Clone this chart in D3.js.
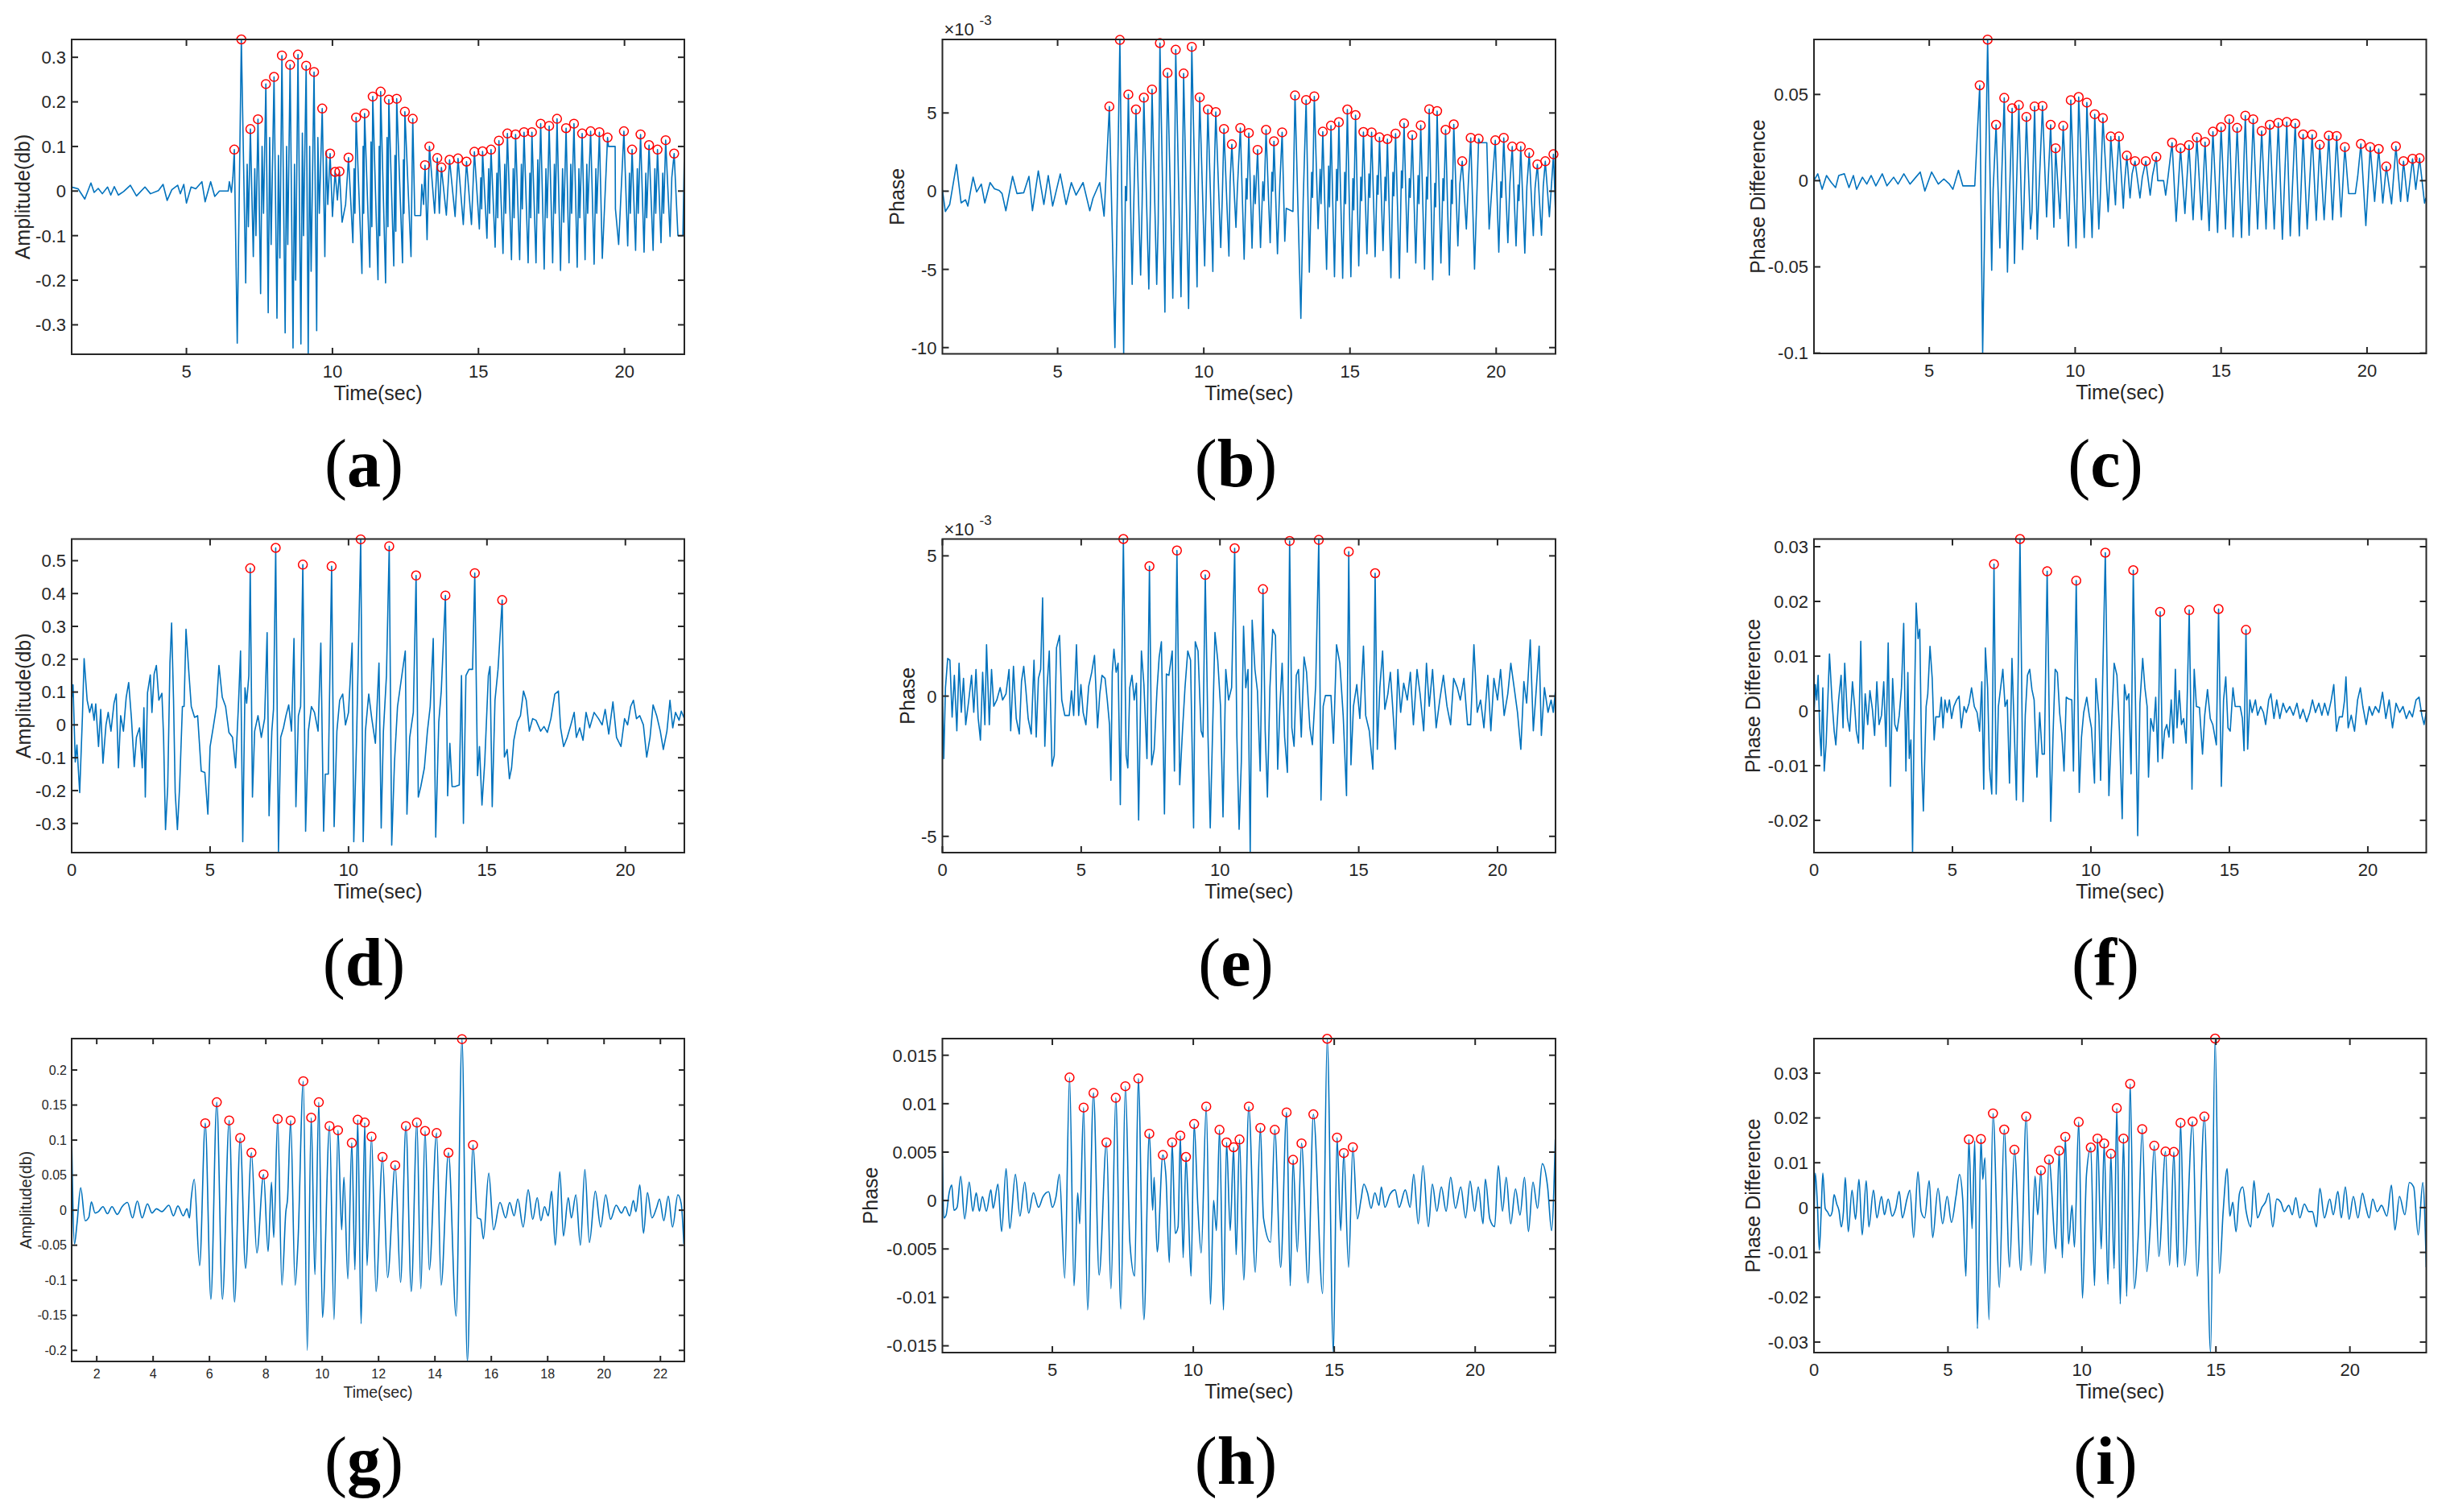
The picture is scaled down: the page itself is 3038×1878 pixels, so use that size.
<!DOCTYPE html>
<html>
<head>
<meta charset="utf-8">
<script src="https://cdn.jsdelivr.net/npm/d3@7"></script>
<style>
  html, body { margin: 0; padding: 0; background: #fff; }
  svg { display: block; }
</style>
</head>
<body>
<svg id="chart" width="3038" height="1878"></svg>
<script>
// ---- data: [time, value] pairs ----
// (a) amplitude, peaks are the red markers, wave holds the rest of the trace
const aPeaks = [[6.64,0.093],[6.88,0.340],[7.19,0.139],[7.45,0.161],[7.72,0.240],[8.00,0.256],[8.27,0.304],[8.55,0.283],[8.82,0.306],[9.10,0.281],[9.37,0.267],[9.65,0.185],[9.92,0.084],[10.09,0.043],[10.24,0.044],[10.55,0.075],[10.81,0.165],[11.10,0.174],[11.38,0.212],[11.65,0.223],[11.93,0.205],[12.20,0.207],[12.48,0.178],[12.75,0.162],[13.17,0.058],[13.32,0.100],[13.59,0.074],[13.73,0.053],[14.01,0.070],[14.30,0.073],[14.59,0.066],[14.86,0.088],[15.14,0.089],[15.43,0.093],[15.70,0.113],[15.99,0.129],[16.27,0.127],[16.56,0.132],[16.83,0.132],[17.13,0.151],[17.42,0.146],[17.69,0.162],[18.00,0.141],[18.27,0.151],[18.55,0.129],[18.84,0.134],[19.14,0.132],[19.42,0.120],[19.98,0.134],[20.26,0.093],[20.55,0.127],[20.84,0.103],[21.13,0.093],[21.41,0.114],[21.70,0.084]];
const aWave = [[1.07,0.009],[1.29,0.005],[1.52,-0.018],[1.73,0.018],[1.84,-0.003],[1.98,0.006],[2.12,-0.006],[2.30,0.009],[2.41,-0.009],[2.53,0.010],[2.67,-0.009],[2.85,-0.001],[3.08,0.013],[3.29,-0.011],[3.58,0.009],[3.77,-0.006],[4.04,0.001],[4.20,0.015],[4.34,-0.021],[4.50,0.003],[4.70,0.013],[4.79,-0.006],[4.91,0.015],[5.00,-0.027],[5.16,0.009],[5.32,0.005],[5.53,0.021],[5.64,-0.024],[5.83,0.021],[5.97,-0.012],[6.13,0.0],[6.43,0.0],[6.47,0.021],[6.54,-0.003],[6.59,0.030],
  [6.74,-0.341],[7.03,-0.206],[7.08,0.06],[7.12,-0.08],[7.29,-0.147],[7.34,0.05],[7.38,-0.10],[7.54,-0.230],[7.59,0.10],[7.64,-0.05],[7.80,-0.273],[7.85,0.12],[7.90,-0.12],[8.10,-0.285],[8.15,0.08],[8.20,-0.15],[8.38,-0.318],[8.43,0.10],[8.47,-0.12],[8.65,-0.352],[8.70,0.06],[8.74,-0.20],[8.92,-0.343],[8.97,0.13],[9.01,-0.10],[9.17,-0.366],[9.22,0.10],[9.27,-0.18],[9.46,-0.313],[9.50,0.12],[9.55,-0.05],[9.74,-0.147],[9.79,0.09],[9.84,-0.03],[10.00,-0.057],[10.17,-0.020],[10.33,-0.070],[10.45,-0.030],
  [10.70,-0.116],[10.74,0.05],[10.77,-0.05],[11.01,-0.185],[11.05,0.10],[11.07,-0.05],[11.28,-0.171],[11.32,0.11],[11.35,-0.08],[11.56,-0.199],[11.60,0.10],[11.62,-0.10],[11.82,-0.206],[11.87,0.12],[11.90,-0.08],[12.10,-0.168],[12.14,0.08],[12.17,-0.09],[12.40,-0.161],[12.43,0.07],[12.45,-0.05],[12.69,-0.147],[12.82,-0.055],[13.02,-0.055],[13.06,0.015],[13.12,-0.030],
  [13.24,-0.109],[13.50,-0.050],[13.66,-0.050],[13.90,-0.054],[14.20,-0.057],[14.48,-0.075],[14.76,-0.075],[15.03,-0.085],[15.08,0.03],[15.11,-0.04],[15.29,-0.106],[15.35,0.05],[15.38,-0.05],[15.57,-0.126],[15.63,0.04],[15.66,-0.06],[15.84,-0.140],[15.90,0.06],[15.93,-0.05],[16.13,-0.154],[16.19,0.05],[16.22,-0.06],[16.41,-0.154],[16.47,0.06],[16.50,-0.04],[16.70,-0.161],[16.76,0.04],[16.79,-0.06],[16.97,-0.161],[17.03,0.07],[17.06,-0.05],[17.25,-0.175],[17.31,0.05],[17.35,-0.06],[17.54,-0.161],[17.60,0.06],[17.63,-0.05],[17.81,-0.178],[17.88,0.05],[17.92,-0.07],[18.10,-0.161],[18.16,0.06],[18.19,-0.05],[18.38,-0.171],[18.44,0.05],[18.47,-0.06],[18.65,-0.154],[18.71,0.06],[18.74,-0.05],[18.96,-0.164],[19.02,0.05],[19.05,-0.05],[19.24,-0.151],[19.45,0.100],[19.68,0.100],[19.69,-0.040],[19.80,-0.120],
  [20.11,-0.123],[20.17,0.04],[20.20,-0.05],[20.38,-0.133],[20.44,0.05],[20.47,-0.05],[20.67,-0.137],[20.73,0.04],[20.76,-0.06],[20.98,-0.133],[21.04,0.05],[21.07,-0.05],[21.25,-0.116],[21.31,0.04],[21.34,-0.05],[21.56,-0.102],[21.62,0.03],[21.83,-0.100],[22.00,-0.100],[22.05,0.090]];

// (b) phase, in units of 1e-3
const bPeaks = [[6.77,5.41],[7.13,9.67],[7.42,6.18],[7.68,5.22],[7.95,5.98],[8.23,6.50],[8.50,9.47],[8.76,7.56],[9.04,9.04],[9.31,7.52],[9.59,9.23],[9.86,6.00],[10.14,5.22],[10.41,5.06],[10.69,3.98],[10.96,2.99],[11.25,4.04],[11.54,3.72],[11.84,2.64],[12.13,3.92],[12.40,3.19],[12.68,3.76],[13.12,6.12],[13.50,5.83],[13.78,6.06],[14.07,3.80],[14.35,4.19],[14.62,4.41],[14.91,5.22],[15.19,4.86],[15.46,3.78],[15.74,3.76],[16.01,3.44],[16.28,3.33],[16.56,3.68],[16.85,4.33],[17.13,3.58],[17.42,4.21],[17.71,5.24],[17.98,5.12],[18.27,3.92],[18.55,4.27],[18.84,1.91],[19.13,3.41],[19.40,3.35],[19.97,3.25],[20.26,3.41],[20.55,2.85],[20.84,2.85],[21.13,2.44],[21.41,1.71],[21.68,1.91],[21.96,2.36]];
const bWave = [[1.06,0.1],[1.16,-1.3],[1.31,-0.85],[1.54,1.7],[1.70,-0.75],[1.85,-0.55],[1.93,-0.95],[2.11,0.9],[2.23,-0.05],[2.39,0.45],[2.51,-0.75],[2.69,0.55],[2.84,0.15],[3.00,0.05],[3.10,-0.15],[3.23,-1.25],[3.46,0.95],[3.61,-0.15],[3.84,-0.1],[4.02,0.95],[4.14,-1.25],[4.34,1.3],[4.53,-0.85],[4.68,1.0],[4.83,-0.95],[5.09,1.1],[5.29,-0.85],[5.47,0.55],[5.63,-0.25],[5.87,0.55],[6.10,-1.25],[6.21,-0.45],[6.44,0.55],[6.59,-1.6],
  [6.96,-10.0],[7.26,-10.4],[7.32,0.3],[7.36,-0.6],[7.55,-5.96],[7.61,-0.4],[7.84,-5.37],[7.89,-0.9],[8.12,-6.26],[8.17,-1.2],[8.39,-5.96],[8.44,-2.0],[8.67,-7.74],[8.71,-0.6],[8.94,-6.85],[8.99,-1.4],[9.22,-6.75],[9.26,-1.0],[9.48,-7.5],[9.53,-0.8],[9.77,-6.12],[9.81,0.2],[10.03,-4.78],[10.08,-0.4],[10.31,-5.14],[10.35,0.5],[10.58,-3.6],[10.63,-0.6],[10.86,-4.15],[10.90,0.6],[11.10,-2.32],[11.15,0.2],[11.38,-4.35],[11.45,0.8],[11.48,-0.5],[11.65,-3.64],[11.72,1.0],[11.76,-0.8],[11.94,-3.6],[12.02,0.6],[12.06,-0.6],[12.27,-3.3],[12.33,1.2],[12.36,0.0],[12.52,-4.0],[12.60,0.4],[12.77,-3.2],[12.82,-1.1],[13.05,-1.3],[13.32,-8.13],[13.40,-0.6],
  [13.61,-5.18],[13.69,1.2],[13.72,-0.4],[13.91,-2.4],[13.98,1.4],[14.01,-0.8],[14.20,-5.0],[14.27,1.6],[14.30,-1.0],[14.47,-5.47],[14.54,1.4],[14.57,-0.6],[14.75,-5.57],[14.82,1.2],[14.85,-0.8],[15.03,-5.47],[15.10,0.8],[15.13,-1.2],[15.30,-4.78],[15.37,0.9],[15.40,-0.6],[15.58,-4.0],[15.65,1.1],[15.68,-0.4],[15.86,-4.19],[15.93,1.0],[15.96,-0.2],[16.13,-3.8],[16.20,0.9],[16.23,-0.6],[16.40,-5.53],[16.47,1.2],[16.50,-0.3],[16.69,-5.57],[16.76,1.3],[16.79,0.2],[16.96,-3.9],[17.03,0.8],[17.06,-0.4],[17.25,-4.59],[17.33,1.0],[17.36,-0.8],[17.55,-4.98],[17.62,0.9],[17.65,-0.5],[17.83,-5.67],[17.90,0.5],[17.93,-1.0],[18.11,-4.59],[18.18,0.8],[18.21,-0.6],[18.40,-5.37],[18.47,0.7],[18.50,-0.8],[18.69,-3.5],[18.76,0.5],[18.98,-2.42],[19.05,0.6],[19.26,-4.98],[19.45,3.1],[19.68,3.1],[19.76,-2.42],[19.86,0.4],
  [20.09,-3.9],[20.16,0.6],[20.19,-0.4],[20.40,-3.3],[20.47,0.5],[20.68,-3.5],[20.75,0.4],[20.78,-0.6],[20.98,-3.96],[21.05,0.3],[21.27,-2.85],[21.33,0.2],[21.55,-2.82],[21.61,0.3],[21.82,-1.63],[22.03,-1.44]];

// (c) phase difference
const cPeaks = [[6.73,0.0553],[7.00,0.0818],[7.29,0.0324],[7.57,0.0480],[7.84,0.0420],[8.07,0.0438],[8.33,0.0370],[8.61,0.0430],[8.88,0.0433],[9.16,0.0324],[9.33,0.0188],[9.59,0.0318],[9.85,0.0467],[10.12,0.0485],[10.40,0.0453],[10.67,0.0385],[10.95,0.0363],[11.22,0.0256],[11.50,0.0256],[11.77,0.0145],[12.05,0.0113],[12.42,0.0113],[12.78,0.0138],[13.32,0.0220],[13.61,0.0188],[13.90,0.0206],[14.17,0.0250],[14.45,0.0224],[14.72,0.0284],[15.00,0.0310],[15.28,0.0356],[15.55,0.0306],[15.83,0.0377],[16.10,0.0356],[16.39,0.0288],[16.67,0.0324],[16.96,0.0335],[17.25,0.0340],[17.54,0.0331],[17.81,0.0268],[18.12,0.0267],[18.38,0.0208],[18.69,0.0261],[18.96,0.0259],[19.24,0.0195],[19.79,0.0213],[20.11,0.0195],[20.40,0.0184],[20.66,0.0082],[20.99,0.0199],[21.25,0.0113],[21.56,0.0127],[21.80,0.0130]];
const cWave = [[1.05,0.0],[1.18,0.004],[1.33,-0.005],[1.48,0.003],[1.64,-0.001],[1.79,-0.004],[1.90,0.003],[2.09,0.004],[2.25,-0.004],[2.40,0.003],[2.51,-0.005],[2.71,0.002],[2.86,-0.002],[3.01,0.003],[3.17,-0.003],[3.39,0.004],[3.55,-0.003],[3.78,0.002],[3.93,-0.002],[4.13,0.004],[4.34,-0.002],[4.54,0.002],[4.69,0.005],[4.85,-0.006],[5.08,0.005],[5.31,-0.002],[5.50,0.001],[5.69,-0.002],[5.81,-0.005],[6.00,0.006],[6.15,-0.003],[6.22,-0.003],[6.56,-0.003],
  [6.83,-0.100],[7.14,-0.052],[7.19,-0.005],[7.42,-0.039],[7.47,-0.004],[7.68,-0.053],[7.73,-0.020],[7.92,-0.048],[7.97,-0.015],[8.20,-0.040],[8.25,-0.012],[8.47,-0.028],[8.52,-0.018],[8.70,-0.034],[8.75,-0.010],[9.02,-0.021],[9.27,-0.027],[9.48,-0.022],[9.77,-0.038],[9.81,-0.008],[10.03,-0.039],[10.07,-0.005],[10.31,-0.033],[10.35,-0.012],[10.58,-0.033],[10.62,-0.006],[10.81,-0.028],[10.86,-0.010],[11.13,-0.018],[11.17,-0.004],[11.38,-0.014],[11.42,0.003],[11.65,-0.016],[11.69,-0.002],[11.88,-0.010],[11.95,0.004],[12.22,-0.010],[12.30,0.002],[12.57,-0.0084],[12.65,0.003],[12.83,0.0],[13.03,0.0],[13.10,-0.0084],[13.18,0.002],
  [13.46,-0.0236],[13.76,-0.019],[14.04,-0.0227],[14.33,-0.0227],[14.59,-0.029],[14.88,-0.030],[15.15,-0.028],[15.41,-0.0326],[15.70,-0.033],[15.96,-0.0317],[16.25,-0.028],[16.54,-0.028],[16.82,-0.028],[17.10,-0.034],[17.37,-0.032],[17.68,-0.032],[17.95,-0.028],[18.26,-0.023],[18.53,-0.0227],[18.82,-0.0227],[19.11,-0.021],[19.37,-0.0075],[19.60,-0.0075],[19.68,0.0023],[19.96,-0.026],[20.26,-0.012],[20.54,-0.013],[20.84,-0.0134],[21.15,-0.012],[21.39,-0.012],[21.67,-0.005],[21.97,-0.013],[22.02,-0.010]];

// (d) amplitude, second record
const dPeaks = [[6.45,0.477],[7.37,0.539],[8.35,0.488],[9.39,0.483],[10.44,0.565],[11.47,0.544],[12.44,0.455],[13.50,0.394],[14.56,0.462],[15.55,0.380]];
const dWave = [[0,0.075],[0.05,0.122],[0.13,-0.113],[0.19,-0.061],[0.29,-0.206],[0.39,0.028],[0.45,0.202],[0.56,0.075],[0.65,0.038],[0.73,0.064],[0.81,0.014],[0.87,0.064],[0.97,-0.066],[1.05,0.047],[1.13,-0.117],[1.24,0],[1.32,0.038],[1.42,-0.019],[1.53,0.066],[1.61,0.094],[1.69,-0.131],[1.77,0.028],[1.87,-0.019],[1.97,0.084],[2.06,0.129],[2.16,0.019],[2.26,-0.127],[2.34,-0.038],[2.45,-0.009],[2.55,-0.131],[2.61,0.052],[2.66,-0.22],[2.74,0.098],[2.84,0.152],[2.90,0.038],[2.98,0.155],[3.06,0.181],[3.15,0.075],[3.26,0.096],[3.32,-0.038],[3.39,-0.319],[3.47,-0.188],[3.55,0.188],[3.61,0.31],[3.68,0.075],[3.74,-0.206],[3.82,-0.319],[3.90,-0.188],[4.00,0.056],[4.06,0.056],[4.13,0.291],[4.23,0.164],[4.32,0.056],[4.44,0.023],[4.55,0.028],[4.68,-0.141],[4.81,-0.145],[4.92,-0.272],[5.00,-0.066],[5.11,-0.009],[5.23,0.056],[5.32,0.181],[5.44,0.084],[5.56,0.056],[5.68,-0.023],[5.81,-0.038],[5.92,-0.131],[6.02,0.052],[6.10,0.225],[6.18,-0.356],[6.26,0.113],[6.32,0.066],[6.40,0.15],
  [6.53,-0.22],[6.61,-0.019],[6.73,0.028],[6.85,-0.038],[6.97,0.019],[7.06,0.281],[7.13,-0.277],[7.23,-0.019],[7.29,0.047],[7.47,-0.385],[7.55,-0.038],[7.65,-0.009],[7.74,0.028],[7.84,0.061],[7.94,-0.019],[8.03,0.263],[8.10,-0.249],[8.19,0.028],[8.27,0.056],[8.45,-0.324],[8.55,-0.019],[8.66,0.056],[8.77,0.038],[8.90,-0.019],[9.00,0.249],[9.10,-0.324],[9.16,-0.15],[9.27,-0.15],[9.48,-0.31],[9.58,-0.019],[9.68,0.075],[9.79,0.094],[9.89,0],[10.00,0.038],[10.13,0.249],[10.19,-0.356],[10.29,-0.047],[10.53,-0.356],[10.61,-0.019],[10.73,0.094],[10.84,0.019],[10.97,-0.056],[11.10,0.188],[11.18,-0.314],[11.26,-0.019],[11.37,0.15],[11.56,-0.366],[11.66,-0.113],[11.77,0.056],[11.94,0.159],[12.05,0.225],[12.11,-0.272],[12.21,-0.038],[12.34,0.038],[12.52,-0.22],[12.61,-0.188],[12.74,-0.131],[12.85,-0.019],[12.95,0.056],[13.06,0.263],[13.15,-0.342],[13.26,0.009],[13.35,0.103],[13.58,-0.216],[13.66,-0.056],[13.74,-0.188],[13.84,-0.188],[14.00,-0.183],[14.08,0.15],[14.15,-0.3],[14.24,0.15],[14.35,0.169],[14.48,0.169],[14.66,-0.155],[14.73,-0.066],[14.82,-0.244],[14.92,-0.113],[15.05,0.15],[15.11,0.178],[15.19,-0.249],[15.29,0.075],[15.40,0.169],
  [15.63,-0.098],[15.73,-0.075],[15.81,-0.164],[15.89,-0.131],[15.97,-0.047],[16.10,0.009],[16.21,0.028],[16.32,0.103],[16.42,0.075],[16.53,-0.019],[16.65,0.019],[16.77,0.014],[16.94,-0.019],[17.06,-0.005],[17.18,-0.023],[17.31,0.019],[17.45,0.094],[17.58,0.103],[17.66,-0.009],[17.77,-0.066],[17.90,-0.038],[18.03,0],[18.15,0.038],[18.23,-0.038],[18.35,-0.009],[18.47,-0.047],[18.58,0.038],[18.71,-0.009],[18.87,0.038],[19.03,0.019],[19.16,0],[19.27,0.047],[19.40,-0.028],[19.55,0.07],[19.68,-0.038],[19.84,-0.066],[19.97,0.019],[20.08,0],[20.19,0.056],[20.29,0.075],[20.40,0.019],[20.52,0.028],[20.65,0],[20.77,-0.098],[20.89,-0.038],[21.00,0.061],[21.13,0.028],[21.26,-0.019],[21.37,-0.075],[21.50,-0.019],[21.61,0.075],[21.71,-0.009],[21.81,0.038],[21.94,0.014],[22.02,0.042],[22.13,0.019]];

// (e) phase, in units of 1e-3
const ePeaks = [[6.52,5.60],[7.46,4.63],[8.45,5.19],[9.47,4.32],[10.53,5.27],[11.55,3.81],[12.51,5.53],[13.56,5.57],[14.64,5.15],[15.59,4.38]];
const eWave = [[0,-0.03],[0.05,-2.23],[0.11,0.3],[0.19,1.34],[0.27,1.28],[0.35,-0.75],[0.43,0.74],[0.52,-1.24],[0.60,1.17],[0.68,-0.58],[0.76,0.63],[0.84,-1.02],[0.95,-0.14],[1.05,0.74],[1.13,-0.58],[1.21,0.95],[1.29,-0.8],[1.37,-1.57],[1.45,0.85],[1.53,-1.02],[1.59,1.83],[1.69,-1.02],[1.77,0.95],[1.85,-0.36],[1.96,-0.14],[2.08,0.3],[2.17,-0.14],[2.29,0.08],[2.40,0.95],[2.46,-1.24],[2.56,1.06],[2.66,-0.8],[2.77,-1.35],[2.85,0.52],[2.93,1.06],[3.01,0.19],[3.09,-0.8],[3.20,-1.35],[3.30,1.28],[3.38,-1.46],[3.46,0.63],[3.54,0.95],[3.61,3.5],[3.69,-1.79],[3.77,0.3],[3.85,1.61],[3.95,-2.5],[4.03,-2.12],[4.11,1.72],[4.22,2.16],[4.30,-0.14],[4.41,-0.69],[4.57,-0.69],[4.65,0.19],[4.73,-0.69],[4.83,1.83],[4.91,-0.69],[4.99,0.41],[5.07,-0.58],[5.17,-1.02],[5.27,0.35],[5.38,0.85],[5.48,1.45],[5.59,-1.13],[5.67,0.08],[5.75,0.74],[5.86,0.63],[5.94,-0.14],[6.02,-1.02],[6.07,-3.0],[6.12,0.85],[6.18,1.67],[6.26,0.85],[6.33,1.17],[6.41,-3.87],
  [6.62,-2.12],[6.68,-2.56],[6.75,0.3],[6.83,0.74],[6.91,-0.14],[6.99,0.46],[7.07,-4.42],[7.17,1.61],[7.26,0.41],[7.37,-2.23],[7.54,-2.45],[7.63,-1.9],[7.73,0.19],[7.81,1.39],[7.89,1.94],[8.00,-4.2],[8.07,0.79],[8.16,0.74],[8.28,1.61],[8.36,-2.67],[8.55,-3.16],[8.65,-1.24],[8.74,0.3],[8.84,1.61],[8.94,1.28],[9.05,-4.7],[9.11,1.94],[9.21,1.61],[9.32,-1.24],[9.39,-1.46],[9.57,-1.46],[9.65,-4.7],[9.74,-1.02],[9.82,2.27],[9.92,1.28],[10.02,-0.36],[10.11,-4.31],[10.21,0.95],[10.31,-0.14],[10.42,0.3],[10.61,-1.46],[10.69,-4.75],[10.77,-2.34],[10.85,2.49],[10.93,0.3],[11.01,0.95],[11.09,-5.58],[11.16,2.71],[11.26,0.95],[11.35,0.19],[11.45,-2.67],[11.63,-1.24],[11.71,-3.6],[11.80,0.3],[11.90,2.38],[12.00,2.16],[12.08,-2.61],[12.16,-0.36],[12.24,1.17],[12.33,-1.46],[12.43,-2.72],[12.59,-1.13],[12.67,-1.79],[12.75,0.74],[12.83,0.95],[12.93,-1.46],[13.03,1.39],[13.12,0.85],[13.24,-1.13],[13.33,-1.73],[13.45,0.41],[13.64,-3.71],[13.72,-0.36],[13.80,0.02],[14.00,0.02],[14.09,-1.68],[14.20,1.83],[14.32,1.17],[14.44,-0.69],[14.56,-3.55],[14.72,-2.45],[14.81,-0.36],[14.93,0.41],[15.04,-0.8],[15.17,1.78],[15.25,-0.69],[15.38,-1.24],[15.51,-2.61],
  [15.67,-1.9],[15.76,0.3],[15.86,1.61],[15.94,-0.47],[16.05,0.08],[16.14,0.85],[16.25,-0.8],[16.32,-1.9],[16.41,0.95],[16.51,-0.58],[16.62,0.46],[16.75,-0.14],[16.86,0.85],[16.97,-1.02],[17.10,0.95],[17.21,0.08],[17.34,-1.24],[17.44,1.17],[17.54,-0.36],[17.66,0.95],[17.79,-1.13],[17.92,-0.14],[18.05,0.74],[18.18,-0.36],[18.31,-1.02],[18.42,0.63],[18.55,0.3],[18.66,-0.14],[18.79,0.63],[18.92,-1.02],[19.03,-1.02],[19.15,1.83],[19.27,-0.58],[19.39,-0.14],[19.51,-1.13],[19.65,0.74],[19.76,-1.24],[19.87,0.63],[20.00,-0.14],[20.11,0.95],[20.24,-0.69],[20.37,0.08],[20.48,1.17],[20.60,0.3],[20.72,-0.58],[20.84,-1.9],[20.95,0.52],[21.05,-0.25],[21.18,2.0],[21.29,-1.24],[21.40,0.3],[21.50,1.78],[21.58,-1.4],[21.69,0.3],[21.82,-0.58],[21.93,-0.14],[22.01,-0.58],[22.09,0.24]];

// (f) phase difference, second record
const fPeaks = [[6.50,0.0268],[7.44,0.0314],[8.42,0.0255],[9.47,0.0238],[10.52,0.0289],[11.53,0.0257],[12.50,0.0181],[13.55,0.0184],[14.61,0.0186],[15.60,0.0148]];
const fWave = [[0,-0.0008],[0.05,0.0048],[0.10,0.002],[0.15,0.0065],[0.21,-0.0037],[0.26,-0.0082],[0.32,0.0042],[0.37,-0.011],[0.44,-0.0059],[0.50,0.002],[0.56,0.0104],[0.65,0.002],[0.73,-0.0037],[0.79,-0.0062],[0.89,0.002],[0.98,0.0065],[1.05,-0.0031],[1.11,0.0087],[1.21,-0.0014],[1.29,-0.0037],[1.39,0.0053],[1.47,0.0008],[1.53,-0.0037],[1.61,-0.0059],[1.69,0.0127],[1.77,-0.007],[1.85,0.0031],[1.94,-0.0025],[2.02,0.0037],[2.11,0.0003],[2.19,-0.0045],[2.27,0.0053],[2.35,-0.0025],[2.44,-0.0008],[2.52,0.0053],[2.60,-0.0065],[2.68,0.0124],[2.76,-0.0138],[2.84,0.0059],[2.92,-0.0025],[3.00,-0.0037],[3.08,-0.0008],[3.16,0.0042],[3.24,0.016],[3.32,-0.011],[3.39,0.007],[3.44,-0.0087],[3.50,-0.0053],[3.56,-0.0259],[3.61,-0.0048],[3.69,0.0197],[3.76,0.0132],[3.82,0.0149],[3.89,-0.0093],[3.95,-0.0183],[4.05,0.0008],[4.11,0.0031],[4.19,0.0118],[4.27,0.0059],[4.34,-0.0053],[4.40,-0.0011],[4.53,-0.0011],[4.60,0.0025],[4.66,-0.0031],[4.73,0.002],[4.81,-0.0003],[4.89,0.002],[4.97,-0.0014],[5.05,0.0008],[5.15,0.002],[5.24,0.0027],[5.32,-0.0031],[5.42,0.0008],[5.50,-0.0003],[5.60,0.0014],[5.69,0.0042],[5.79,0.0008],[5.89,-0.0003],[5.98,-0.0037],[6.06,0.0053],[6.13,-0.0143],[6.19,0.0115],[6.27,0.0042],[6.34,-0.0104],[6.42,-0.0152],
  [6.58,-0.0152],[6.66,0.0008],[6.74,0.0042],[6.82,0.0076],[6.90,0.0008],[6.98,0.002],[7.06,-0.0132],[7.15,0.0096],[7.23,-0.0031],[7.31,-0.0163],[7.55,-0.0166],[7.63,-0.0008],[7.71,0.0065],[7.79,0.0076],[7.87,0.0039],[7.95,0.002],[8.05,-0.0121],[8.15,-0.0003],[8.24,-0.0079],[8.32,-0.0079],[8.55,-0.0202],[8.63,-0.0048],[8.71,0.0076],[8.79,0.007],[8.87,-0.0003],[8.95,-0.0042],[9.03,-0.011],[9.11,0.0025],[9.19,0.0022],[9.31,0.002],[9.37,-0.011],[9.58,-0.0149],[9.66,-0.0048],[9.74,-0.0003],[9.85,0.0025],[9.94,-0.0008],[10.02,-0.0031],[10.13,-0.0132],[10.18,0.0059],[10.29,-0.0008],[10.35,-0.0127],[10.65,-0.0155],[10.74,-0.0037],[10.84,0.0087],[10.94,0.0065],[11.03,-0.0037],[11.13,-0.0197],[11.21,0.0048],[11.29,0.002],[11.37,0.0031],[11.45,-0.0115],[11.69,-0.0228],[11.77,0.0014],[11.87,0.0096],[11.95,0.0042],[12.03,0.0008],[12.08,-0.0121],[12.16,-0.0014],[12.26,-0.0037],[12.34,0.0025],[12.42,-0.0093],[12.58,-0.0087],[12.66,-0.0037],[12.74,-0.0025],[12.82,-0.0048],[12.90,0.002],[12.98,-0.0059],[13.05,0.0076],[13.11,-0.0031],[13.19,0.0037],[13.27,-0.0025],[13.35,-0.0014],[13.44,-0.0059],[13.65,-0.0143],[13.73,0.0076],[13.81,0.0008],[13.92,0.0006],[14.03,-0.0079],[14.11,-0.0008],[14.21,0.0039],[14.31,-0.0014],[14.40,-0.0025],[14.53,-0.0062],[14.71,-0.0138],[14.79,0.002],[14.87,0.0062],[14.95,-0.0031],[15.03,-0.0037],[15.13,0.0042],[15.21,0.0008],[15.31,0.0008],[15.39,0.0008],[15.47,-0.0014],[15.53,-0.0073],
  [15.66,-0.007],[15.74,0.002],[15.82,-0.0003],[15.94,0.002],[16.02,-0.0008],[16.13,0.0008],[16.23,-0.0003],[16.31,-0.0025],[16.42,0.002],[16.50,0.0031],[16.61,-0.0014],[16.71,0.002],[16.82,-0.0014],[16.94,0.0014],[17.06,-0.0003],[17.18,0.0008],[17.31,-0.0008],[17.44,0.0014],[17.55,-0.0014],[17.66,0.0003],[17.79,-0.002],[17.90,-0.0003],[18.00,0.002],[18.11,-0.0003],[18.23,0.0014],[18.34,-0.0008],[18.44,0.0014],[18.56,-0.0008],[18.68,0.002],[18.77,0.0048],[18.87,-0.0037],[18.97,-0.0011],[19.08,-0.0011],[19.16,0.002],[19.21,0.0062],[19.29,-0.0031],[19.40,-0.0008],[19.52,-0.0037],[19.63,0.002],[19.73,0.0042],[19.82,0.0008],[19.94,-0.0025],[20.05,0.0008],[20.16,-0.0008],[20.27,0.0008],[20.40,-0.0003],[20.53,0.0034],[20.65,-0.0014],[20.77,0.002],[20.89,-0.0031],[21.02,0.0014],[21.15,-0.0003],[21.27,0.0008],[21.39,-0.0014],[21.50,0],[21.61,-0.0011],[21.74,0.002],[21.85,0.0025],[21.95,-0.0008],[22.03,-0.0025],[22.11,-0.0003]];

// (g) amplitude, third record
const gPeaks = [[5.85,0.124],[6.26,0.154],[6.70,0.128],[7.09,0.103],[7.49,0.082],[7.92,0.051],[8.42,0.130],[8.88,0.128],[9.33,0.184],[9.61,0.132],[9.88,0.154],[10.26,0.120],[10.56,0.114],[11.05,0.096],[11.26,0.129],[11.51,0.125],[11.75,0.105],[12.14,0.076],[12.59,0.064],[12.97,0.120],[13.36,0.125],[13.65,0.113],[14.06,0.110],[14.48,0.082],[14.96,0.244],[15.35,0.093]];
const gWave = [[1.11,0.108],[1.21,-0.048],[1.30,-0.019],[1.43,0.032],[1.59,-0.015],[1.72,-0.010],[1.81,0.012],[1.94,-0.004],[2.06,-0.002],[2.22,0.005],[2.38,-0.005],[2.54,0.005],[2.73,-0.006],[2.90,0.005],[3.09,0.011],[3.27,-0.011],[3.44,0.013],[3.61,-0.011],[3.80,0.009],[3.96,-0.004],[4.12,0.002],[4.31,-0.002],[4.56,0.007],[4.72,-0.008],[4.88,0.006],[5.07,-0.008],[5.20,0.002],[5.29,-0.011],[5.35,0.016],[5.46,0.044],[5.65,-0.079],
  [6.05,-0.127],[6.46,-0.127],[6.89,-0.131],[7.28,-0.083],[7.68,-0.061],[8.08,-0.059],[8.20,0.040],[8.28,-0.039],[8.57,-0.107],[8.71,-0.002],[8.77,0.016],[9.04,-0.107],[9.14,-0.046],[9.47,-0.200],[9.74,-0.092],[10.01,-0.153],[10.42,-0.156],[10.69,-0.028],[10.77,0.047],[10.91,-0.098],[11.16,-0.085],[11.38,-0.162],[11.59,-0.079],[11.91,-0.116],[12.32,-0.096],[12.78,-0.103],[13.16,-0.116],[13.50,-0.112],[13.80,-0.085],[14.22,-0.107],[14.75,-0.151],[15.15,-0.216],
  [15.51,-0.011],[15.62,-0.013],[15.72,-0.041],[15.91,0.053],[16.08,-0.028],[16.31,0.011],[16.51,-0.011],[16.65,0.011],[16.81,-0.008],[16.94,0.016],[17.13,-0.024],[17.31,0.029],[17.47,-0.013],[17.63,0.018],[17.76,-0.015],[17.89,0.005],[18.02,-0.008],[18.14,0.027],[18.27,-0.050],[18.43,0.055],[18.56,-0.037],[18.73,0.018],[18.84,-0.011],[19.00,0.022],[19.16,-0.050],[19.32,0.058],[19.48,-0.046],[19.69,0.027],[19.88,-0.024],[20.06,0.022],[20.23,-0.013],[20.43,0.007],[20.62,-0.004],[20.75,0.005],[20.91,-0.008],[21.04,0.014],[21.13,-0.002],[21.27,0.036],[21.40,-0.033],[21.54,0.025],[21.70,-0.011],[21.86,0.003],[21.97,0.016],[22.12,-0.015],[22.28,0.020],[22.43,-0.024],[22.62,0.022],[22.74,0.009],[22.83,-0.048]];

// (h) phase, third record
const hPeaks = [[5.61,0.0127],[6.11,0.0096],[6.46,0.0111],[6.92,0.0060],[7.25,0.0106],[7.59,0.0118],[8.05,0.0126],[8.44,0.0069],[8.92,0.0047],[9.25,0.0060],[9.54,0.0067],[9.74,0.0045],[10.03,0.0079],[10.46,0.0097],[10.93,0.0073],[11.18,0.0060],[11.43,0.0055],[11.64,0.0063],[11.97,0.0097],[12.38,0.0075],[12.89,0.0073],[13.31,0.0091],[13.54,0.0042],[13.84,0.0059],[14.26,0.0089],[14.75,0.0167],[15.10,0.0065],[15.34,0.0049],[15.66,0.0055]];
const hWave = [[1.10,0.0046],[1.15,-0.0018],[1.23,-0.0015],[1.34,0.0008],[1.43,0.0016],[1.51,-0.0010],[1.62,-0.0007],[1.75,0.0025],[1.89,-0.0019],[2.05,0.0019],[2.18,-0.0011],[2.30,0.0008],[2.41,-0.0011],[2.52,0.0004],[2.66,-0.0011],[2.82,0.0011],[2.90,-0.0008],[3.07,0.0017],[3.20,-0.0032],[3.36,0.0033],[3.49,-0.0029],[3.69,0.0027],[3.85,-0.0016],[4.02,0.0019],[4.16,-0.0013],[4.33,0.0008],[4.51,-0.0007],[4.67,0.0004],[4.87,0.0009],[5.00,-0.0007],[5.13,0.0004],[5.25,0.0027],[5.44,-0.0080],
  [5.77,-0.0088],[5.90,0.0008],[5.97,-0.0024],[6.25,-0.0113],[6.66,-0.0077],[7.08,-0.0091],[7.43,-0.0112],[7.75,-0.0043],[7.92,-0.0078],[8.25,-0.0123],[8.56,-0.0010],[8.61,0.0024],[8.72,-0.0053],[9.03,0.0025],[9.15,-0.0064],[9.36,-0.0034],[9.46,-0.0027],[9.64,-0.0059],[9.82,-0.0005],[9.92,-0.0078],[10.16,-0.0005],[10.28,-0.0054],[10.61,-0.0107],[10.72,0.0],[10.82,-0.0031],[11.07,-0.0113],[11.31,-0.0031],[11.52,-0.0056],[11.79,-0.0082],[12.20,-0.0074],[12.49,-0.0018],[12.74,-0.0043],[13.10,-0.0069],[13.44,-0.0088],[13.69,-0.0053],[14.07,-0.0085],[14.59,-0.0096],[14.97,-0.0157],[15.23,-0.0031],[15.51,-0.0069],
  [15.82,-0.0019],[15.95,0.0001],[16.05,0.0017],[16.18,0.0008],[16.31,-0.0008],[16.44,0.0008],[16.59,-0.0005],[16.67,0.0014],[16.80,-0.0007],[16.97,0.0006],[17.16,0.0011],[17.30,-0.0007],[17.52,0.0011],[17.69,-0.0007],[17.82,0.0027],[17.98,-0.0024],[18.15,0.0036],[18.34,-0.0027],[18.48,0.0017],[18.64,-0.0011],[18.80,0.0014],[18.97,-0.0011],[19.13,0.0024],[19.30,-0.0008],[19.49,0.0014],[19.66,-0.0018],[19.82,0.0020],[19.98,-0.0011],[20.11,0.0014],[20.28,-0.0024],[20.36,0.0022],[20.52,-0.0019],[20.69,-0.0027],[20.82,0.0036],[20.97,-0.0011],[21.10,0.0024],[21.26,-0.0024],[21.43,0.0012],[21.59,-0.0015],[21.75,0.0024],[21.89,-0.0032],[22.05,0.0019],[22.21,-0.0008],[22.38,0.0038],[22.57,0.0014],[22.71,-0.0031],[22.84,0.0063]];

// (i) phase difference, third record
const iPeaks = [[5.78,0.0152],[6.23,0.0153],[6.68,0.0210],[7.10,0.0174],[7.48,0.0129],[7.92,0.0203],[8.47,0.0083],[8.77,0.0107],[9.15,0.0127],[9.38,0.0158],[9.88,0.0191],[10.33,0.0134],[10.58,0.0154],[10.83,0.0143],[11.08,0.0120],[11.30,0.0222],[11.55,0.0154],[11.80,0.0276],[12.25,0.0175],[12.70,0.0138],[13.12,0.0125],[13.43,0.0124],[13.68,0.0189],[14.13,0.0192],[14.57,0.0203],[14.97,0.0377]];
const iWave = [[0,-0.0043],[0.05,0.0077],[0.13,0.0005],[0.20,-0.0095],[0.27,-0.0009],[0.33,0.0077],[0.42,-0.0002],[0.50,-0.0009],[0.60,-0.0019],[0.68,-0.0009],[0.75,0.0029],[0.85,0.0008],[0.93,-0.0006],[1.02,-0.0043],[1.10,-0.0009],[1.17,0.0067],[1.28,-0.0054],[1.42,0.0039],[1.55,-0.0026],[1.68,0.0063],[1.80,-0.0061],[1.95,0.0060],[2.05,-0.0043],[2.22,0.0039],[2.35,-0.0023],[2.52,0.0025],[2.63,-0.0016],[2.77,0.0019],[2.92,-0.0019],[3.05,-0.0002],[3.18,0.0036],[3.30,-0.0023],[3.47,0.0019],[3.58,0.0039],[3.72,-0.0067],[3.88,0.0080],[4.00,-0.0009],[4.13,-0.0023],[4.30,0.0060],[4.43,-0.0067],[4.63,0.0043],[4.80,-0.0036],[4.97,0.0025],[5.13,-0.0033],[5.30,0.0025],[5.43,0.0074],[5.55,0.0019],[5.67,-0.0153],
  [5.90,-0.0047],[6.00,0.0149],[6.10,-0.0270],[6.30,0.0063],[6.38,0.0111],[6.53,-0.0250],[6.92,-0.0178],[7.30,-0.0133],[7.72,-0.0140],[8.10,-0.0129],[8.25,0.0070],[8.35,-0.0016],[8.62,-0.0147],[9.03,-0.0092],[9.27,-0.0112],[9.50,-0.0081],[9.63,0.0005],[9.72,-0.0088],[10.02,-0.0202],[10.17,0.0074],[10.47,-0.0174],[10.72,-0.0092],[10.97,-0.0171],[11.20,-0.0136],[11.43,-0.0215],[11.67,-0.0198],[11.95,-0.0181],[12.10,-0.0064],[12.42,-0.0143],[12.55,-0.0043],[12.87,-0.0109],[13.27,-0.0129],[13.57,-0.0133],[13.83,-0.0129],[14.30,-0.0153],[14.80,-0.0323],
  [15.13,-0.0147],[15.27,-0.0009],[15.42,0.0087],[15.52,-0.0019],[15.63,0.0012],[15.75,-0.0054],[15.88,0.0032],[16.00,0.0046],[16.13,-0.0009],[16.30,-0.0043],[16.42,0.0060],[16.55,-0.0023],[16.72,0.0001],[16.85,0.0012],[16.97,0.0032],[17.12,-0.0043],[17.27,0.0019],[17.42,0.0012],[17.55,-0.0009],[17.72,0.0005],[17.85,-0.0016],[17.98,0.0022],[18.13,-0.0023],[18.30,0.0008],[18.47,-0.0009],[18.60,-0.0009],[18.75,-0.0043],[18.88,0.0043],[19.05,-0.0023],[19.25,0.0019],[19.38,-0.0016],[19.55,0.0036],[19.68,-0.0023],[19.83,0.0046],[19.97,-0.0026],[20.13,0.0025],[20.30,-0.0023],[20.47,0.0032],[20.58,0.0005],[20.72,-0.0023],[20.85,0.0019],[21.02,-0.0009],[21.18,0.0005],[21.38,-0.0019],[21.55,0.0050],[21.68,-0.0050],[21.85,0.0025],[22.05,-0.0016],[22.22,0.0056],[22.38,0.0046],[22.55,-0.0061],[22.72,0.0056],[22.85,-0.0133]];

// ---- axis settings ----
const ticksX522 = [5, 10, 15, 20];
const ticksX020 = [0, 5, 10, 15, 20];
const ticksXg = [2, 4, 6, 8, 10, 12, 14, 16, 18, 20, 22];
const ticksYa = [-0.3, -0.2, -0.1, 0, 0.1, 0.2, 0.3];
const ticksYb = [-10, -5, 0, 5];
const ticksYc = [-0.1, -0.05, 0, 0.05];
const ticksYd = [-0.3, -0.2, -0.1, 0, 0.1, 0.2, 0.3, 0.4, 0.5];
const ticksYe = [-5, 0, 5];
const ticksYf = [-0.02, -0.01, 0, 0.01, 0.02, 0.03];
const ticksYg = [-0.2, -0.15, -0.1, -0.05, 0, 0.05, 0.1, 0.15, 0.2];
const ticksYh = [-0.015, -0.01, -0.005, 0, 0.005, 0.01, 0.015];
const ticksYi = [-0.03, -0.02, -0.01, 0, 0.01, 0.02, 0.03];

const colL = [89, 1170.5, 2253], colR = [850, 1932, 3013.5];
const labelX = [452, 1535, 2615];

const panels = [
  {id: 'a', col: 0, top: 49, bottom: 440, xd: [1.07, 22.05], yd: [-0.366, 0.34], xt: ticksX522, yt: ticksYa, wave: aWave, peaks: aPeaks, ylab: 'Amplitude(db)', yoff: -61, lab: 604},
  {id: 'b', col: 1, top: 49, bottom: 439.5, xd: [1.06, 22.03], yd: [-10.4, 9.7], xt: ticksX522, yt: ticksYb, wave: bWave, peaks: bPeaks, ylab: 'Phase', yoff: -56, lab: 604, exp: true},
  {id: 'c', col: 2, top: 49, bottom: 439, xd: [1.05, 22.03], yd: [-0.1002, 0.0819], xt: ticksX522, yt: ticksYc, wave: cWave, peaks: cPeaks, ylab: 'Phase Difference', yoff: -70, lab: 604},
  {id: 'd', col: 0, top: 669.5, bottom: 1059, xd: [0, 22.13], yd: [-0.389, 0.566], xt: ticksX020, yt: ticksYd, wave: dWave, peaks: dPeaks, ylab: 'Amplitude(db)', yoff: -60, lab: 1224},
  {id: 'e', col: 1, top: 669.5, bottom: 1059, xd: [0, 22.09], yd: [-5.58, 5.6], xt: ticksX020, yt: ticksYe, wave: eWave, peaks: ePeaks, ylab: 'Phase', yoff: -43, lab: 1224, exp: true},
  {id: 'f', col: 2, top: 669.5, bottom: 1059, xd: [0, 22.11], yd: [-0.0259, 0.0314], xt: ticksX020, yt: ticksYf, wave: fWave, peaks: fPeaks, ylab: 'Phase Difference', yoff: -76, lab: 1224},
  {id: 'g', col: 0, top: 1290, bottom: 1691, xd: [1.11, 22.85], yd: [-0.2158, 0.2448], xt: ticksXg, yt: ticksYg, wave: gWave, peaks: gPeaks, ylab: 'Amplitude(db)', yoff: -57, lab: 1843, small: true, smooth: true},
  {id: 'h', col: 1, top: 1290, bottom: 1680, xd: [1.1, 22.85], yd: [-0.0157, 0.01672], xt: ticksX522, yt: ticksYh, wave: hWave, peaks: hPeaks, ylab: 'Phase', yoff: -89, lab: 1843, smooth: true},
  {id: 'i', col: 2, top: 1290, bottom: 1680, xd: [0, 22.85], yd: [-0.03235, 0.0377], xt: ticksX020, yt: ticksYi, wave: iWave, peaks: iPeaks, ylab: 'Phase Difference', yoff: -76, lab: 1843, smooth: true}
];

const svg = d3.select('#chart');
const ink = '#262626';
const sans = '"Liberation Sans", Arial, Helvetica, sans-serif';
const fmt = v => String(+v.toFixed(4));

panels.forEach(p => {
  const left = colL[p.col], right = colR[p.col];
  const x = d3.scaleLinear().domain(p.xd).range([left, right]);
  const y = d3.scaleLinear().domain(p.yd).range([p.bottom, p.top]);
  const tickFont = p.small ? 16 : 22;
  const labFont = p.small ? 19.5 : 25;
  const tl = p.small ? 7 : 8;
  const g = svg.append('g');

  g.append('clipPath').attr('id', 'clip-' + p.id)
    .append('rect').attr('x', left).attr('y', p.top)
    .attr('width', right - left).attr('height', p.bottom - p.top);

  // trace: peaks merged into the rest of the samples
  const pts = p.wave.concat(p.peaks).sort((m, n) => m[0] - n[0]);
  const line = d3.line().x(d => x(d[0])).y(d => y(d[1]));
  if (p.smooth) line.curve(d3.curveMonotoneX);

  g.append('path')
    .attr('clip-path', `url(#clip-${p.id})`)
    .attr('d', line(pts))
    .attr('fill', 'none')
    .attr('stroke', '#0072BD')
    .attr('stroke-width', 1.6)
    .attr('stroke-linejoin', 'round');

  g.selectAll('circle.pk').data(p.peaks).enter().append('circle')
    .attr('class', 'pk')
    .attr('cx', d => x(d[0])).attr('cy', d => y(d[1]))
    .attr('r', 5.5)
    .attr('fill', 'none')
    .attr('stroke', '#FF0000')
    .attr('stroke-width', 1.5);

  // ticks, mirrored inward on all four sides
  const tk = g.append('g').attr('stroke', ink).attr('stroke-width', 2);
  p.xt.forEach(t => {
    tk.append('line').attr('x1', x(t)).attr('x2', x(t)).attr('y1', p.bottom).attr('y2', p.bottom - tl);
    tk.append('line').attr('x1', x(t)).attr('x2', x(t)).attr('y1', p.top).attr('y2', p.top + tl);
  });
  p.yt.forEach(t => {
    tk.append('line').attr('x1', left).attr('x2', left + tl).attr('y1', y(t)).attr('y2', y(t));
    tk.append('line').attr('x1', right).attr('x2', right - tl).attr('y1', y(t)).attr('y2', y(t));
  });

  g.append('rect')
    .attr('x', left).attr('y', p.top)
    .attr('width', right - left).attr('height', p.bottom - p.top)
    .attr('fill', 'none').attr('stroke', ink).attr('stroke-width', 2);

  // tick labels
  g.selectAll('text.xt').data(p.xt).enter().append('text')
    .attr('x', d => x(d)).attr('y', p.bottom + (p.small ? 21 : 29))
    .attr('text-anchor', 'middle')
    .attr('font-family', sans).attr('font-size', tickFont).attr('fill', ink)
    .text(d => fmt(d));

  g.selectAll('text.yt').data(p.yt).enter().append('text')
    .attr('x', left - (p.small ? 6 : 7)).attr('y', d => y(d))
    .attr('dy', '0.36em')
    .attr('text-anchor', 'end')
    .attr('font-family', sans).attr('font-size', tickFont).attr('fill', ink)
    .text(d => fmt(d));

  if (p.exp) {
    g.append('text').attr('x', left + 2).attr('y', p.top - 5)
      .attr('font-family', sans).attr('font-size', 22).attr('fill', ink)
      .text('\u00D710');
    g.append('text').attr('x', left + 46).attr('y', p.top - 18)
      .attr('font-family', sans).attr('font-size', 17).attr('fill', ink)
      .text('-3');
  }

  // axis titles
  g.append('text')
    .attr('x', (left + right) / 2)
    .attr('y', p.bottom + (p.small ? 45 : 57))
    .attr('text-anchor', 'middle')
    .attr('font-family', sans).attr('font-size', labFont).attr('fill', ink)
    .text('Time(sec)');

  const ym = (p.top + p.bottom) / 2;
  g.append('text')
    .attr('transform', `translate(${left + p.yoff},${ym}) rotate(-90)`)
    .attr('dy', '0.35em')
    .attr('text-anchor', 'middle')
    .attr('font-family', sans).attr('font-size', labFont).attr('fill', ink)
    .text(p.ylab);

  // panel letter
  const lt = svg.append('text')
    .attr('x', labelX[p.col]).attr('y', p.lab)
    .attr('text-anchor', 'middle')
    .attr('font-family', '"Liberation Serif", "Times New Roman", serif')
    .attr('font-size', 84).attr('fill', '#000');
  lt.append('tspan').text('(');
  lt.append('tspan').attr('font-weight', 'bold').text(p.id);
  lt.append('tspan').text(')');
});
</script>
</body>
</html>
